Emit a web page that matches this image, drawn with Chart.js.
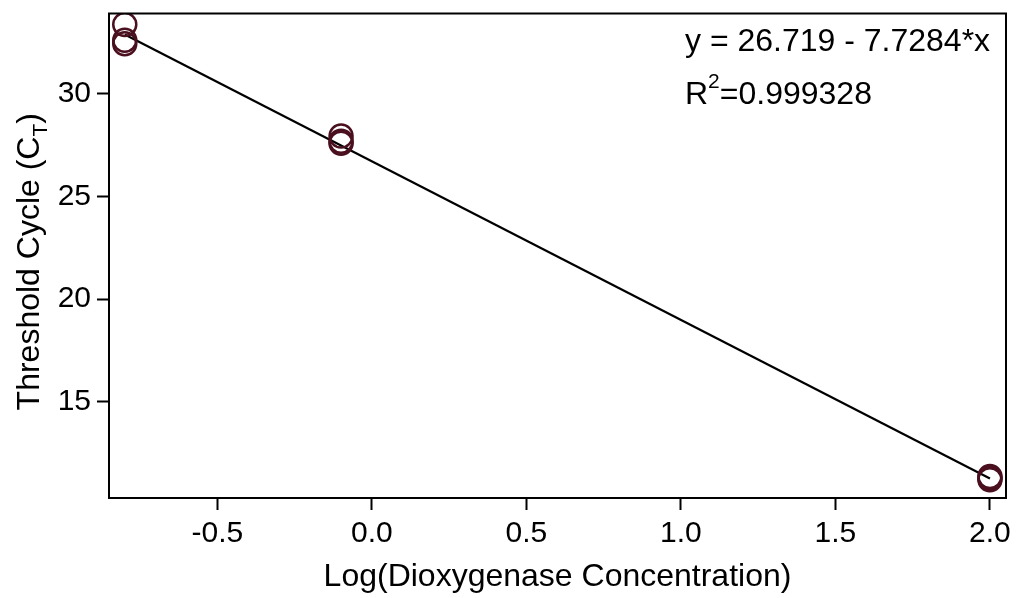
<!DOCTYPE html>
<html>
<head>
<meta charset="utf-8">
<script src="https://cdn.jsdelivr.net/npm/chart.js@4/dist/chart.umd.min.js"></script>
<style>
  html, body { margin: 0; padding: 0; background: #fff; }
  #wrap { width: 1018px; height: 598px; }
</style>
</head>
<body>
<div id="wrap"><canvas id="chart" width="1018" height="598"></canvas></div>
<script>
'use strict';

// measured points: log concentration vs threshold cycle
var logConc = [-0.8, -0.8, -0.8, -0.1, -0.1, -0.1, 2.0, 2.0, 2.0];
var ctValues = [33.38, 32.62, 32.45, 27.95, 27.7, 27.6, 11.36, 11.28, 11.2];

// fitted line end points (y = 26.719 - 7.7284*x)
var fitX = [-0.8, 2.0];
var fitY = [32.9, 11.26];

var xTicks = [-0.5, 0.0, 0.5, 1.0, 1.5, 2.0];
var yTicks = [15, 20, 25, 30];

var fontFamily = '"Liberation Sans", Arial, sans-serif';
var pointColor = '#4a1020';

var scatterData = [];
for (let i = 0; i < logConc.length; i++) {
    scatterData.push({ x: logConc[i], y: ctValues[i] });
}
var fitData = [];
for (let i = 0; i < fitX.length; i++) {
    fitData.push({ x: fitX[i], y: fitY[i] });
}

// frame, y title with subscript, equation text
var extras = {
    id: 'extras',
    afterDraw: function (chart) {
        var ctx = chart.ctx;
        var a = chart.chartArea;
        ctx.save();
        ctx.strokeStyle = '#000';
        ctx.lineWidth = 2;
        ctx.strokeRect(a.left, a.top, a.right - a.left, a.bottom - a.top);

        ctx.fillStyle = '#000';
        ctx.textBaseline = 'alphabetic';

        // y axis title
        ctx.save();
        ctx.translate(39, (a.top + a.bottom) / 2 + 6);
        ctx.rotate(-Math.PI / 2);
        var main = 'Threshold Cycle (C';
        ctx.font = '32px ' + fontFamily;
        var w1 = ctx.measureText(main).width;
        ctx.font = '21px ' + fontFamily;
        var w2 = ctx.measureText('T').width;
        ctx.font = '32px ' + fontFamily;
        var w3 = ctx.measureText(')').width;
        var x0 = -(w1 + w2 + w3) / 2;
        ctx.textAlign = 'left';
        ctx.fillText(main, x0, 0);
        ctx.font = '21px ' + fontFamily;
        ctx.fillText('T', x0 + w1, 8);
        ctx.font = '32px ' + fontFamily;
        ctx.fillText(')', x0 + w1 + w2, 0);
        ctx.restore();

        // equation
        ctx.textAlign = 'left';
        ctx.font = '32px ' + fontFamily;
        ctx.fillText('y = 26.719 - 7.7284*x', 685, 51);
        ctx.fillText('R', 685, 104);
        var rw = ctx.measureText('R').width;
        ctx.font = '21px ' + fontFamily;
        ctx.fillText('2', 685 + rw, 88);
        var sw = ctx.measureText('2').width;
        ctx.font = '32px ' + fontFamily;
        ctx.fillText('=0.999328', 685 + rw + sw, 104);
        ctx.restore();
    }
};

var chart = new Chart(document.getElementById('chart').getContext('2d'), {
    type: 'scatter',
    data: {
        datasets: [
            {
                label: 'Ct',
                data: scatterData,
                pointRadius: 11.5,
                pointHoverRadius: 11.5,
                pointBorderWidth: 2.5,
                borderColor: pointColor,
                backgroundColor: 'rgba(0,0,0,0)'
            },
            {
                label: 'fit',
                type: 'line',
                data: fitData,
                borderColor: '#000',
                borderWidth: 2.2,
                pointRadius: 0,
                fill: false
            }
        ]
    },
    options: {
        responsive: false,
        animation: false,
        layout: { autoPadding: false, padding: { top: 10, right: 12, left: 0, bottom: 0 } },
        plugins: {
            legend: { display: false },
            tooltip: { enabled: false }
        },
        scales: {
            x: {
                type: 'linear',
                min: -0.851,
                max: 2.052,
                afterBuildTicks: function (scale) {
                    scale.ticks = xTicks.map(function (v) { return { value: v }; });
                },
                afterFit: function (scale) {
                    scale.height = 100;
                },
                grid: {
                    drawOnChartArea: false,
                    drawTicks: true,
                    tickLength: 12,
                    tickWidth: 2,
                    tickColor: '#000'
                },
                border: { display: false },
                ticks: {
                    padding: 6,
                    color: '#000',
                    font: { family: fontFamily, size: 30 },
                    maxRotation: 0,
                    callback: function (v) { return Number(v).toFixed(1); }
                },
                title: {
                    display: true,
                    text: 'Log(Dioxygenase Concentration)',
                    color: '#000',
                    font: { family: fontFamily, size: 32 },
                    padding: { top: 0, bottom: 2 }
                }
            },
            y: {
                type: 'linear',
                min: 10.31,
                max: 33.92,
                afterBuildTicks: function (scale) {
                    scale.ticks = yTicks.map(function (v) { return { value: v }; });
                },
                afterFit: function (scale) {
                    scale.width = 109;
                },
                grid: {
                    drawOnChartArea: false,
                    drawTicks: true,
                    tickLength: 12,
                    tickWidth: 2,
                    tickColor: '#000'
                },
                border: { display: false },
                ticks: {
                    padding: 6,
                    color: '#000',
                    font: { family: fontFamily, size: 30, lineHeight: 0.5 }
                }
            }
        }
    },
    plugins: [extras]
});
</script>
</body>
</html>
